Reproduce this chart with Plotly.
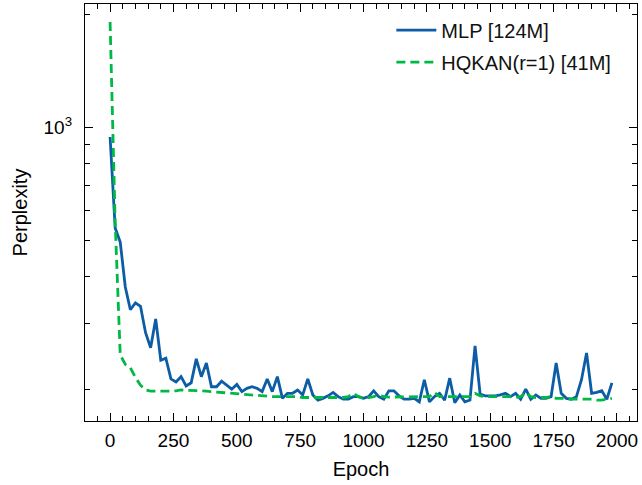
import plotly.graph_objects as go

# ---- data ----
epochs = [20 * k for k in range(100)]

mlp_ppl = [
    942, 540, 495, 376, 327, 341, 334, 284, 259, 309,
    240, 243, 214, 210, 217, 205, 209, 242, 217, 236,
    204, 204, 211, 206, 201, 207, 198, 202, 204, 202,
    198, 214, 198, 217, 190, 196, 196, 200, 194, 214,
    194, 188, 190, 193, 197, 192, 189, 189, 192, 192,
    190, 192, 199, 192, 189, 199, 199, 193, 189, 189,
    190, 186, 213, 186, 192, 196, 188, 215, 185, 194,
    186, 188, 262, 195, 193, 193, 193, 194, 196, 192,
    196, 189, 201, 189, 194, 190, 190, 192, 236, 196,
    190, 189, 192, 213, 251, 196, 197, 199, 189, 209,
]

hqkan_ppl = [
    1906, 560, 248, 234, 229, 216, 206, 200, 198.5, 198.5,
    198, 198, 198.5, 199, 200, 199.5, 199.5, 199.5, 199, 198.5,
    198, 197.5, 197, 196.5, 196, 195.5, 195, 194, 193.5, 193,
    193, 192.5, 192, 192, 192, 192, 192, 192, 191, 191,
    191, 191, 191, 191, 191, 191, 191, 192, 196, 192,
    190, 191, 192, 194, 192, 191.5, 191.5, 191.5, 191.5, 191.5,
    191.5, 192, 192, 192, 197, 192, 192, 192, 192, 192,
    192, 192, 196, 193, 192, 192, 192, 192, 192, 192,
    191, 192, 197, 192, 191, 191, 191, 192, 190, 190,
    190, 189, 189, 189, 189, 189, 188, 188, 189, 190,
]

labels = ["MLP [124M]", "HQKAN(r=1) [41M]"]
colors = ["#0C5DA5", "#00B945"]

x_ticks = [0, 250, 500, 750, 1000, 1250, 1500, 1750, 2000]
x_minor = list(range(-50, 2100, 50))
y_ticks = [1000]
y_ticktext = ["10<sup>3</sup>"]
y_minor = [200, 300, 400, 500, 600, 700, 800, 900, 2000]

FONT = "Liberation Sans, Arial, Helvetica, sans-serif"

fig = go.Figure()
fig.add_trace(go.Scatter(
    x=epochs, y=mlp_ppl, mode="lines", name=labels[0], legendgroup="a",
    line=dict(color=colors[0], width=2.8),
))
fig.add_trace(go.Scatter(
    x=epochs, y=hqkan_ppl, mode="lines", name=labels[1], legendgroup="b",
    line=dict(color=colors[1], width=2.8, dash="9px,5px"),
))

axis_common = dict(
    showline=True, linecolor="black", linewidth=1.3,
    mirror="allticks", ticks="inside", tickcolor="black",
    tickwidth=1.3, ticklen=8, showgrid=False, zeroline=False,
    automargin=False,
    tickfont=dict(family=FONT, size=19, color="black"),
)

fig.update_layout(
    width=642, height=485,
    margin=dict(l=85, r=5, t=4, b=64),
    paper_bgcolor="white", plot_bgcolor="white",
    font=dict(family=FONT, size=19, color="black"),
    showlegend=True,
    legend=dict(
        x=0.555, y=0.984, xanchor="left", yanchor="top",
        bgcolor="rgba(0,0,0,0)", borderwidth=0,
        font=dict(family=FONT, size=20, color="#111"),
        tracegroupgap=3, itemwidth=40,
    ),
    xaxis=dict(
        **axis_common,
        range=[-99, 2079],
        tickmode="array", tickvals=x_ticks,
        ticklabelstandoff=2,
        minor=dict(tickmode="array", tickvals=x_minor, ticks="inside",
                   ticklen=4.5, tickwidth=1.1, tickcolor="black"),
        title=dict(text="Epoch", font=dict(family=FONT, size=20, color="black"),
                   standoff=12),
    ),
    yaxis=dict(
        **axis_common,
        type="log",
        range=[2.2185, 3.328],
        tickmode="array", tickvals=y_ticks, ticktext=y_ticktext,
        ticklabelstandoff=8,
        minor=dict(tickmode="array", tickvals=y_minor, ticks="inside",
                   ticklen=4.5, tickwidth=1.1, tickcolor="black"),
        title=dict(text="Perplexity", font=dict(family=FONT, size=20, color="black"),
                   standoff=10),
    ),
)

fig.write_html(
    "out.html",
    config={"displayModeBar": False},
    post_script="document.body.style.margin='0px';document.body.style.padding='0px';",
)
